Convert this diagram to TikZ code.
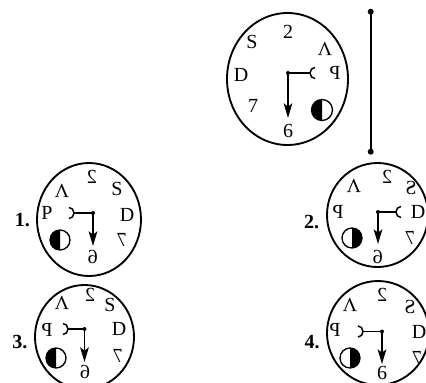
\documentclass[tikz,border=0pt]{standalone}
\usepackage{fontspec}
\setmainfont{Liberation Serif}
\usetikzlibrary{arrows.meta}
\newcommand\mirg[1]{\scalebox{-1}[1]{#1}}
\newcommand\lamg{\rotatebox[origin=c]{180}{V}}
\newcommand\halfdiscL[3]{\begin{scope}\clip (#1-#3-1,#2-#3-1) rectangle (#1,#2+#3+1);\fill (#1,#2) circle[radius=#3];\end{scope}\draw[line width=1pt] (#1,#2) circle[radius=#3];}
\newcommand\halfdiscR[3]{\begin{scope}\clip (#1,#2-#3-1) rectangle (#1+#3+1,#2+#3+1);\fill (#1,#2) circle[radius=#3];\end{scope}\draw[line width=1pt] (#1,#2) circle[radius=#3];}
% hook opening right, attached at its left point (x,y)
\newcommand\hookO[2]{\draw[hand] (#1+5,#2-5.5) arc[start angle=270,end angle=90,x radius=5,y radius=5.5];}
% hook opening left, attached at its right point (x,y)
\newcommand\hookC[2]{\draw[hand] (#1-5,#2-5.5) arc[start angle=270,end angle=450,x radius=5,y radius=5.5];}
\begin{document}
\begin{tikzpicture}[x=0.75pt,y=-0.75pt,
  dial/.style={line width=1.4pt},
  hand/.style={line width=1.1pt},
  arr/.style={hand,-{Stealth[length=11pt,width=6.5pt,inset=2.5pt]}},
  g/.style={inner sep=0pt,font=\fontsize{15}{17}\selectfont},
  lbl/.style={inner sep=0pt,font=\fontsize{15}{17}\selectfont\bfseries}]
\useasboundingbox (0,0) rectangle (426,383);
\fill[white] (0,0) rectangle (426,383);

% ---------- top clock ----------
\draw[dial] (287.5,79) ellipse[x radius=60.5,y radius=66];
\node[g] (t2) at (288,32) {2};
\node[g] (tS) at (252,42) {S};
\node[g] (tL) at (325,49) {\lamg};
\node[g] (tD) at (241,75) {D};
\node[g] (tP) at (335,73) {\mirg{P}};
\node[g] (t7) at (253,106) {7};
\node[g] (t6) at (288,131) {6};
\halfdiscL{322}{110}{10.5}
\coordinate (tc) at (288,73);
\coordinate (th) at (310,73);
\coordinate (tt) at (288,118);
\draw[hand] (tc) -- (th);
\hookO{310}{73}
\draw[arr] (tc) -- (tt);
\fill (tc) circle[radius=2];

% mirror line
\coordinate (mt) at (370.7,11.7);
\coordinate (mb) at (370.7,151.7);
\draw[line width=1.5pt] (mt) -- (mb);
\fill (mt) circle[radius=3];
\fill (mb) circle[radius=3];

% ---------- option 1 ----------
\node[lbl] (l1) at (22.5,220) {1.};
\draw[dial] (89,219.5) ellipse[x radius=52,y radius=56.5];
\node[g] (a2) at (92,177) {\mirg{2}};
\node[g] (aL) at (62,191) {\lamg};
\node[g] (aS) at (117,189) {S};
\node[g] (aP) at (47,213) {P};
\node[g] (aD) at (127,215) {D};
\node[g] (a7) at (122,240) {\mirg{7}};
\node[g] (a6) at (93,257) {\mirg{6}};
\halfdiscL{60}{240}{10}
\coordinate (ac) at (93,213);
\coordinate (ah) at (74,213);
\coordinate (at) at (93,246);
\draw[hand] (ac) -- (ah);
\hookC{74}{213}
\draw[arr] (ac) -- (at);
\fill (ac) circle[radius=2];

% ---------- option 2 ----------
\node[lbl] (l2) at (311.7,221.7) {2.};
\draw[dial] (377.5,215) ellipse[x radius=50.5,y radius=52];
\node[g] (b2) at (387,177) {\mirg{2}};
\node[g] (bL) at (354,186) {\lamg};
\node[g] (bS) at (411,188) {\mirg{S}};
\node[g] (bP) at (338,212) {\mirg{P}};
\node[g] (bD) at (418,212) {D};
\node[g] (b7) at (410,238) {\mirg{7}};
\node[g] (b6) at (378,257) {\mirg{6}};
\halfdiscR{352}{238}{10}
\coordinate (bc) at (378,212);
\coordinate (bh) at (396,212);
\coordinate (bt) at (378,244);
\draw[hand] (bc) -- (bh);
\hookO{396}{212}
\draw[arr] (bc) -- (bt);
\fill (bc) circle[radius=2];

% ---------- option 3 ----------
\node[lbl] (l3) at (20,342) {3.};
\draw[dial] (84.5,337) ellipse[x radius=49.5,y radius=52];
\node[g] (c2) at (90,295) {\mirg{2}};
\node[g] (cL) at (62,303) {\lamg};
\node[g] (cS) at (110,305) {S};
\node[g] (cP) at (47,330) {\mirg{P}};
\node[g] (cD) at (119,329) {D};
\node[g] (c7) at (118,356) {\mirg{7}};
\node[g] (c6) at (85,372) {\mirg{6}};
\halfdiscL{56}{358}{10}
\coordinate (cc) at (84.5,329);
\coordinate (ch) at (68,329);
\coordinate (ct) at (84.5,362);
\draw[hand] (cc) -- (ch);
\hookC{68}{329}
\draw[arr] (cc) -- (ct);
\fill (cc) circle[radius=2];

% ---------- option 4 ----------
\node[lbl] (l4) at (312,342) {4.};
\draw[dial] (378,333) ellipse[x radius=51,y radius=52];
\node[g] (d2) at (382,295) {\mirg{2}};
\node[g] (dL) at (350,305) {\lamg};
\node[g] (dS) at (410,307) {\mirg{S}};
\node[g] (dP) at (335,330) {\mirg{P}};
\node[g] (dD) at (419,332) {D};
\node[g] (d7) at (417,358) {\mirg{7}};
\node[g] (d6) at (382,373) {6};
\halfdiscR{350}{358}{10}
\coordinate (dc) at (382,331.5);
\coordinate (dh) at (363,331.5);
\coordinate (dt) at (382,364);
\draw[hand] (dc) -- (dh);
\hookC{363}{331.5}
\draw[arr] (dc) -- (dt);
\fill (dc) circle[radius=2];
\end{tikzpicture}
\end{document}
